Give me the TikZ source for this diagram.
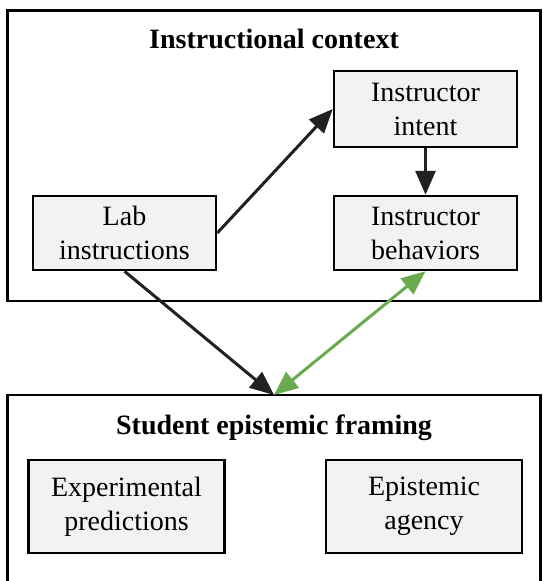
\documentclass[tikz,border=0pt]{standalone}
\usepackage{fontspec}
\setmainfont{Liberation Serif}
\usetikzlibrary{arrows.meta}
\definecolor{boxgray}{RGB}{242,242,242}
\definecolor{arrgreen}{RGB}{106,170,78}
\begin{document}
\begin{tikzpicture}[x=1pt,y=-1pt,
  frame/.style={draw=black,line width=2.5pt},
  inner/.style={draw=black,line width=2.5pt,fill=boxgray,align=center,inner sep=0pt,
    font=\fontsize{28}{34}\selectfont},
  title/.style={font=\fontsize{28}{34}\selectfont\bfseries,inner sep=0pt},
  arr/.style={line width=3pt,draw=black!87,-{Triangle[length=24pt,width=20pt]}},
  garr/.style={line width=3pt,draw=arrgreen,{Triangle[length=24pt,width=20pt]}-{Triangle[length=24pt,width=20pt]}}]
\useasboundingbox (0,0) rectangle (542,581);
\clip (0,0) rectangle (542,581);
\draw[frame] (7.5,10.5) rectangle (540.5,301);
\draw[frame] (7.5,395) rectangle (540.5,620);
\node[title,anchor=base] (t1) at (274,48) {Instructional context};
\node[title,anchor=base] (t2) at (274,434) {Student epistemic framing};
\node[inner,minimum width=183pt,minimum height=76pt] (intent) at (425.5,109) {Instructor\\intent};
\node[inner,minimum width=183pt,minimum height=74pt] (lab) at (124.5,233) {Lab\\instructions};
\node[inner,minimum width=183pt,minimum height=74pt] (beh) at (425.5,233) {Instructor\\behaviors};
\node[inner,minimum width=196pt,minimum height=93pt] (exp) at (126.5,506.5) {Experimental\\predictions};
\node[inner,minimum width=196pt,minimum height=93pt] (agency) at (424,506.5) {Epistemic\\agency};
\coordinate (meet) at (274,395);
\draw[arr] (lab.east) -- (intent.west);
\draw[arr] (intent.south) -- (beh.north);
\draw[arr] (lab.south) -- (meet);
\draw[garr] (meet) -- (beh.south);
\end{tikzpicture}
\end{document}
